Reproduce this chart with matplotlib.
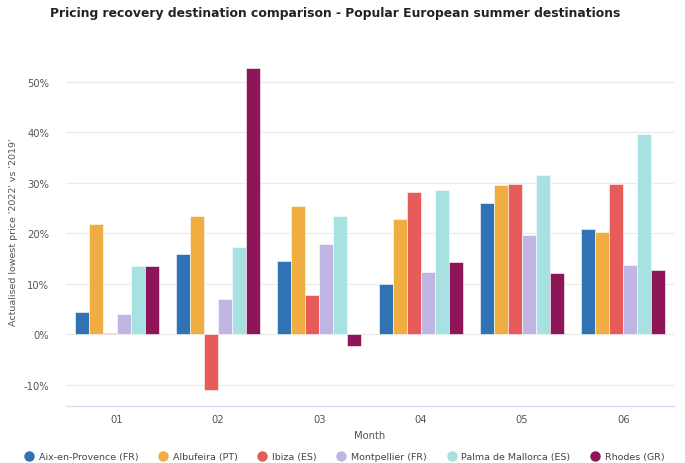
import numpy as np
import matplotlib.pyplot as plt
from matplotlib.lines import Line2D

months = ["01", "02", "03", "04", "05", "06"]
destinations = ["Aix-en-Provence (FR)", "Albufeira (PT)", "Ibiza (ES)",
                "Montpellier (FR)", "Palma de Mallorca (ES)", "Rhodes (GR)"]

aix = [4.5, 15.9, 14.6, 9.9, 26.0, 20.9]
albufeira = [21.8, 23.4, 25.5, 22.8, 29.5, 20.2]
ibiza = [0.2, -11.1, 7.8, 28.1, 29.7, 29.7]
montpellier = [4.0, 7.0, 17.8, 12.3, 19.6, 13.8]
palma = [13.6, 17.2, 23.4, 28.6, 31.6, 39.6]
rhodes = [13.5, 52.8, -2.4, 14.3, 12.2, 12.8]

series = [aix, albufeira, ibiza, montpellier, palma, rhodes]
colors = ["#3072b4", "#f0ae42", "#e85b5b", "#c1b5e3", "#a7e1e1", "#8f1559"]

fig = plt.figure(figsize=(6.85, 4.64), dpi=100)
ax = fig.add_axes([66 / 685, 1 - 407 / 464, 608 / 685, (407 - 57.6) / 464])

x = np.arange(len(months))
width = 0.138
n = len(series)
for i, (vals, c) in enumerate(zip(series, colors)):
    offs = (i - (n - 1) / 2) * width
    ax.bar(x + offs, vals, width, color=c, edgecolor="white", linewidth=0.4, zorder=3)

ax.set_xlim(-0.5, 5.5)
ax.set_ylim(-14.2, 55)
ax.set_yticks([-10, 0, 10, 20, 30, 40, 50])
ax.set_yticklabels([f"{v}%" for v in [-10, 0, 10, 20, 30, 40, 50]])
ax.set_xticks(x)
ax.set_xticklabels(months)
ax.grid(axis="y", color="#ebebeb", linewidth=0.9, zorder=0)
for s in ["top", "right", "left"]:
    ax.spines[s].set_visible(False)
ax.spines["bottom"].set_color("#d3ddee")
ax.spines["bottom"].set_linewidth(1.0)
ax.tick_params(axis="both", length=0, labelsize=7.2, colors="#555555")
ax.tick_params(axis="x", pad=6)
ax.tick_params(axis="y", pad=12)

ax.set_xlabel("Month", fontsize=7.2, color="#555555", labelpad=4)
ax.set_ylabel("Actualised lowest price '2022' vs '2019'", fontsize=6.8, color="#555555")
ax.yaxis.set_label_coords(-48 / 608, 0.5)

fig.text(0.49, 1 - 13 / 464, "Pricing recovery destination comparison - Popular European summer destinations",
         ha="center", va="center", fontsize=8.9, fontweight="bold", color="#222222")

handles = [Line2D([0], [0], marker="o", linestyle="", markersize=6.5, markerfacecolor=c,
                  markeredgecolor=c) for c in colors]
fig.legend(handles, destinations, loc="center", bbox_to_anchor=(0.502, 1 - 458 / 464),
           ncol=6, frameon=False, fontsize=6.8, handletextpad=0.45, columnspacing=2.0,
           labelcolor="#444444", handlelength=1.2)

fig.savefig("out.png", dpi=100)
